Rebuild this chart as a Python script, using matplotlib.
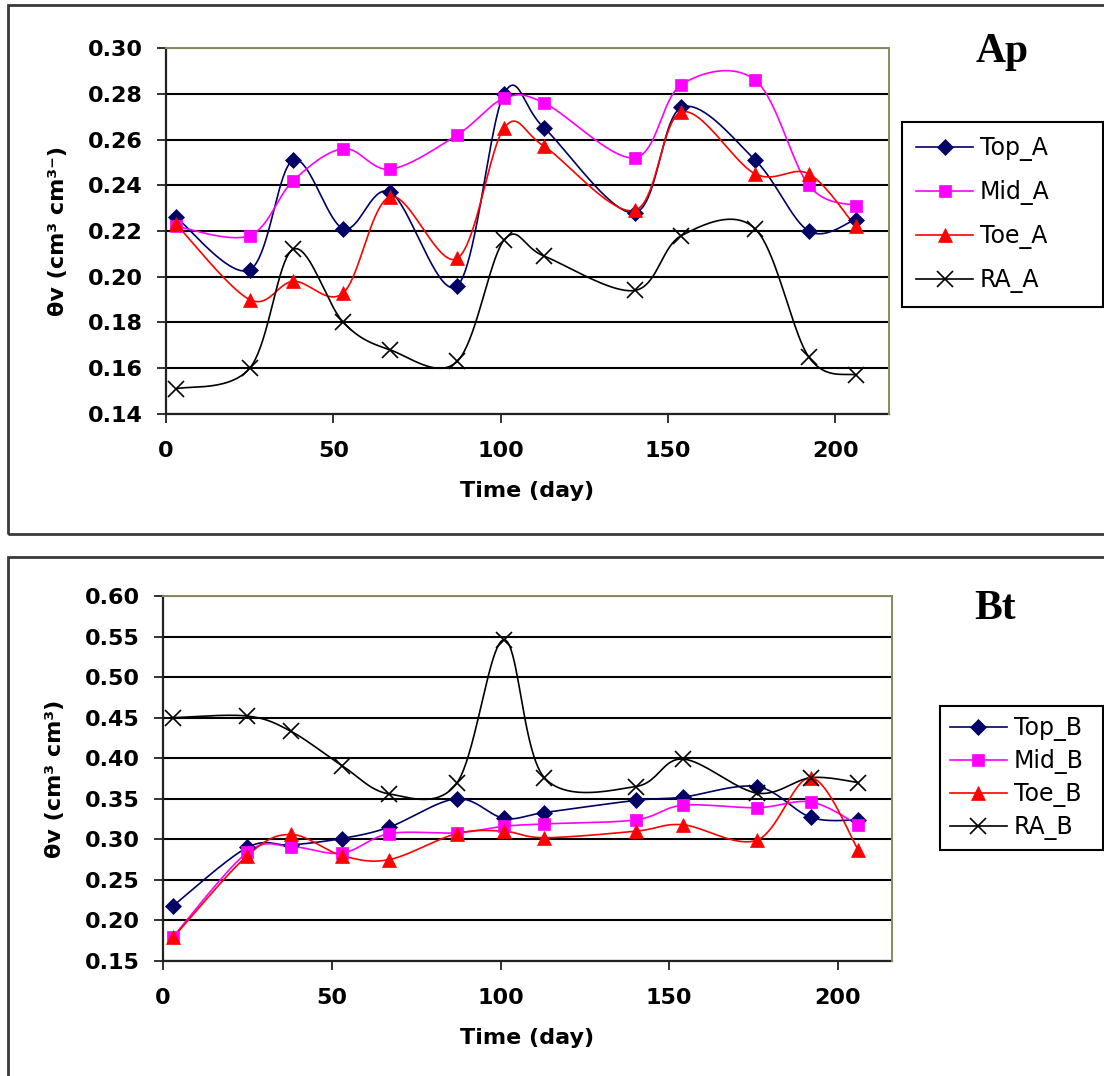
import numpy as np
import matplotlib
matplotlib.use("Agg")
import matplotlib.pyplot as plt
from matplotlib.patches import Rectangle

plt.rcParams['font.family'] = ['DejaVu Sans']

# sampling days
days = [3, 25, 38, 53, 67, 87, 101, 113, 140, 154, 176, 192, 206]

# Ap horizon
top_a = [0.226, 0.203, 0.251, 0.221, 0.237, 0.196, 0.280, 0.265, 0.228, 0.274, 0.251, 0.220, 0.225]
mid_a = [0.222, 0.218, 0.242, 0.256, 0.247, 0.262, 0.278, 0.276, 0.252, 0.284, 0.286, 0.240, 0.231]
toe_a = [0.223, 0.190, 0.198, 0.193, 0.235, 0.208, 0.265, 0.257, 0.229, 0.272, 0.245, 0.245, 0.222]
ra_a = [0.151, 0.160, 0.212, 0.180, 0.168, 0.163, 0.216, 0.209, 0.194, 0.218, 0.221, 0.165, 0.157]

# Bt horizon
top_b = [0.218, 0.290, 0.293, 0.301, 0.315, 0.350, 0.326, 0.333, 0.348, 0.352, 0.365, 0.327, 0.324]
mid_b = [0.180, 0.284, 0.291, 0.283, 0.307, 0.308, 0.316, 0.319, 0.324, 0.342, 0.339, 0.346, 0.318]
toe_b = [0.179, 0.280, 0.306, 0.280, 0.275, 0.307, 0.310, 0.302, 0.310, 0.318, 0.299, 0.376, 0.287]
ra_b = [0.450, 0.452, 0.433, 0.391, 0.356, 0.369, 0.546, 0.376, 0.365, 0.399, 0.357, 0.376, 0.370]

series_styles = [
    ('Top', '#000066', 'D', 8.5),
    ('Mid', '#ff00ff', 's', 8.5),
    ('Toe', '#ff0000', '^', 10.0),
    ('RA', '#000000', 'x', 11.0),
]


def smooth(x, y, n=40):
    # bezier segments with catmull-rom style control points
    x = np.asarray(x, float)
    y = np.asarray(y, float)
    px = np.concatenate([[x[0]], x, [x[-1]]])
    py = np.concatenate([[y[0]], y, [y[-1]]])
    t = np.linspace(0, 1, n)[:, None]
    xs, ys = [], []
    for i in range(len(x) - 1):
        p0 = np.array([px[i], py[i]])
        p1 = np.array([px[i + 1], py[i + 1]])
        p2 = np.array([px[i + 2], py[i + 2]])
        p3 = np.array([px[i + 3], py[i + 3]])
        c1 = p1 + (p2 - p0) / 6
        c2 = p2 - (p3 - p1) / 6
        b = ((1 - t) ** 3 * p1 + 3 * (1 - t) ** 2 * t * c1
             + 3 * (1 - t) * t ** 2 * c2 + t ** 3 * p2)
        xs.append(b[:, 0])
        ys.append(b[:, 1])
    return np.concatenate(xs), np.concatenate(ys)


def draw_panel(ax, data, ylim, yticks, ylabel):
    for (name, col, mk, ms), vals in zip(series_styles, data):
        sx, sy = smooth(days, vals)
        ax.plot(sx, sy, color=col, lw=1.2, zorder=3)
        ax.plot(days, vals, linestyle='none', marker=mk, ms=ms, color=col,
                mew=1.2 if mk == 'x' else 0.5, zorder=4)
    ax.set_xlim(0, 216)
    ax.set_ylim(*ylim)
    ax.set_xticks([0, 50, 100, 150, 200])
    ax.set_yticks(yticks)
    ax.set_yticklabels(['%.2f' % v for v in yticks])
    ax.set_axisbelow(True)
    ax.grid(axis='y', color='#000000', lw=1.5)
    for s in ['left', 'bottom']:
        ax.spines[s].set_color('#222222')
        ax.spines[s].set_linewidth(1.6)
    for s in ['top', 'right']:
        ax.spines[s].set_color('#8a8a60')
        ax.spines[s].set_linewidth(1.4)
        ax.spines[s].set_zorder(5)
    ax.tick_params(axis='both', direction='out', length=6.5, width=1.3,
                   colors='#222222', labelsize=16, labelcolor='black')
    ax.tick_params(axis='y', pad=10)
    ax.tick_params(axis='x', pad=13)
    for lab in ax.get_xticklabels() + ax.get_yticklabels():
        lab.set_fontweight('bold')
    ax.set_xlabel('Time (day)', fontsize=16, fontweight='bold', labelpad=14)
    ax.set_ylabel(ylabel, fontsize=16, fontweight='bold')
    ax.yaxis.set_label_coords(-0.135, 0.5)

    handles = []
    for (name, col, mk, ms) in series_styles:
        h, = ax.plot([], [], color=col, lw=1.2, marker=mk, ms=ms,
                     mew=1.2 if mk == 'x' else 0.5)
        handles.append(h)
    return handles


fig = plt.figure(figsize=(11.04, 10.76), dpi=100)

# panel frames
fig.patches.append(Rectangle((8 / 1104, 1 - 534 / 1076), 1.2, 529 / 1076,
                             transform=fig.transFigure, fill=False,
                             ec='#3a3a3a', lw=2))
fig.patches.append(Rectangle((8 / 1104, -0.05), 1.2, 1 - 557 / 1076 + 0.05,
                             transform=fig.transFigure, fill=False,
                             ec='#3a3a3a', lw=2))

ax1 = fig.add_axes([166 / 1104, 1 - 414 / 1076, 723 / 1104, 366 / 1076])
ax2 = fig.add_axes([163 / 1104, 1 - 961 / 1076, 729 / 1104, 365 / 1076])

h1 = draw_panel(ax1, [top_a, mid_a, toe_a, ra_a], (0.14, 0.30),
                np.arange(0.14, 0.301, 0.02), 'θv (cm³ cm³⁻)')
h2 = draw_panel(ax2, [top_b, mid_b, toe_b, ra_b], (0.15, 0.60),
                np.arange(0.15, 0.601, 0.05), 'θv (cm³ cm³)')

leg1 = ax1.legend(h1, ['Top_A', 'Mid_A', 'Toe_A', 'RA_A'],
                  bbox_to_anchor=(902 / 1104, 0.3, 201 / 1104, 1 - 122 / 1076 - 0.3),
                  bbox_transform=fig.transFigure, loc='upper left', mode='expand',
                  borderaxespad=0, fontsize=17, labelspacing=0.8, borderpad=0.6,
                  handlelength=2.4, handletextpad=0.3, fancybox=False,
                  framealpha=1, edgecolor='black')
leg1.get_frame().set_linewidth(1.5)

leg2 = ax2.legend(h2, ['Top_B', 'Mid_B', 'Toe_B', 'RA_B'],
                  bbox_to_anchor=(940 / 1104, 0.0, 163 / 1104, 1 - 706 / 1076),
                  bbox_transform=fig.transFigure, loc='upper left', mode='expand',
                  borderaxespad=0, fontsize=17, labelspacing=0.34, borderpad=0.42,
                  handlelength=2.4, handletextpad=0.3, fancybox=False,
                  framealpha=1, edgecolor='black')
leg2.get_frame().set_linewidth(1.5)

fig.text(1002 / 1104, 1 - 62 / 1076, 'Ap', family='Liberation Serif',
         fontweight='bold', fontsize=30, ha='center', va='baseline')
fig.text(995 / 1104, 1 - 619 / 1076, 'Bt', family='Liberation Serif',
         fontweight='bold', fontsize=30, ha='center', va='baseline')

fig.savefig('out.png', dpi=100)
